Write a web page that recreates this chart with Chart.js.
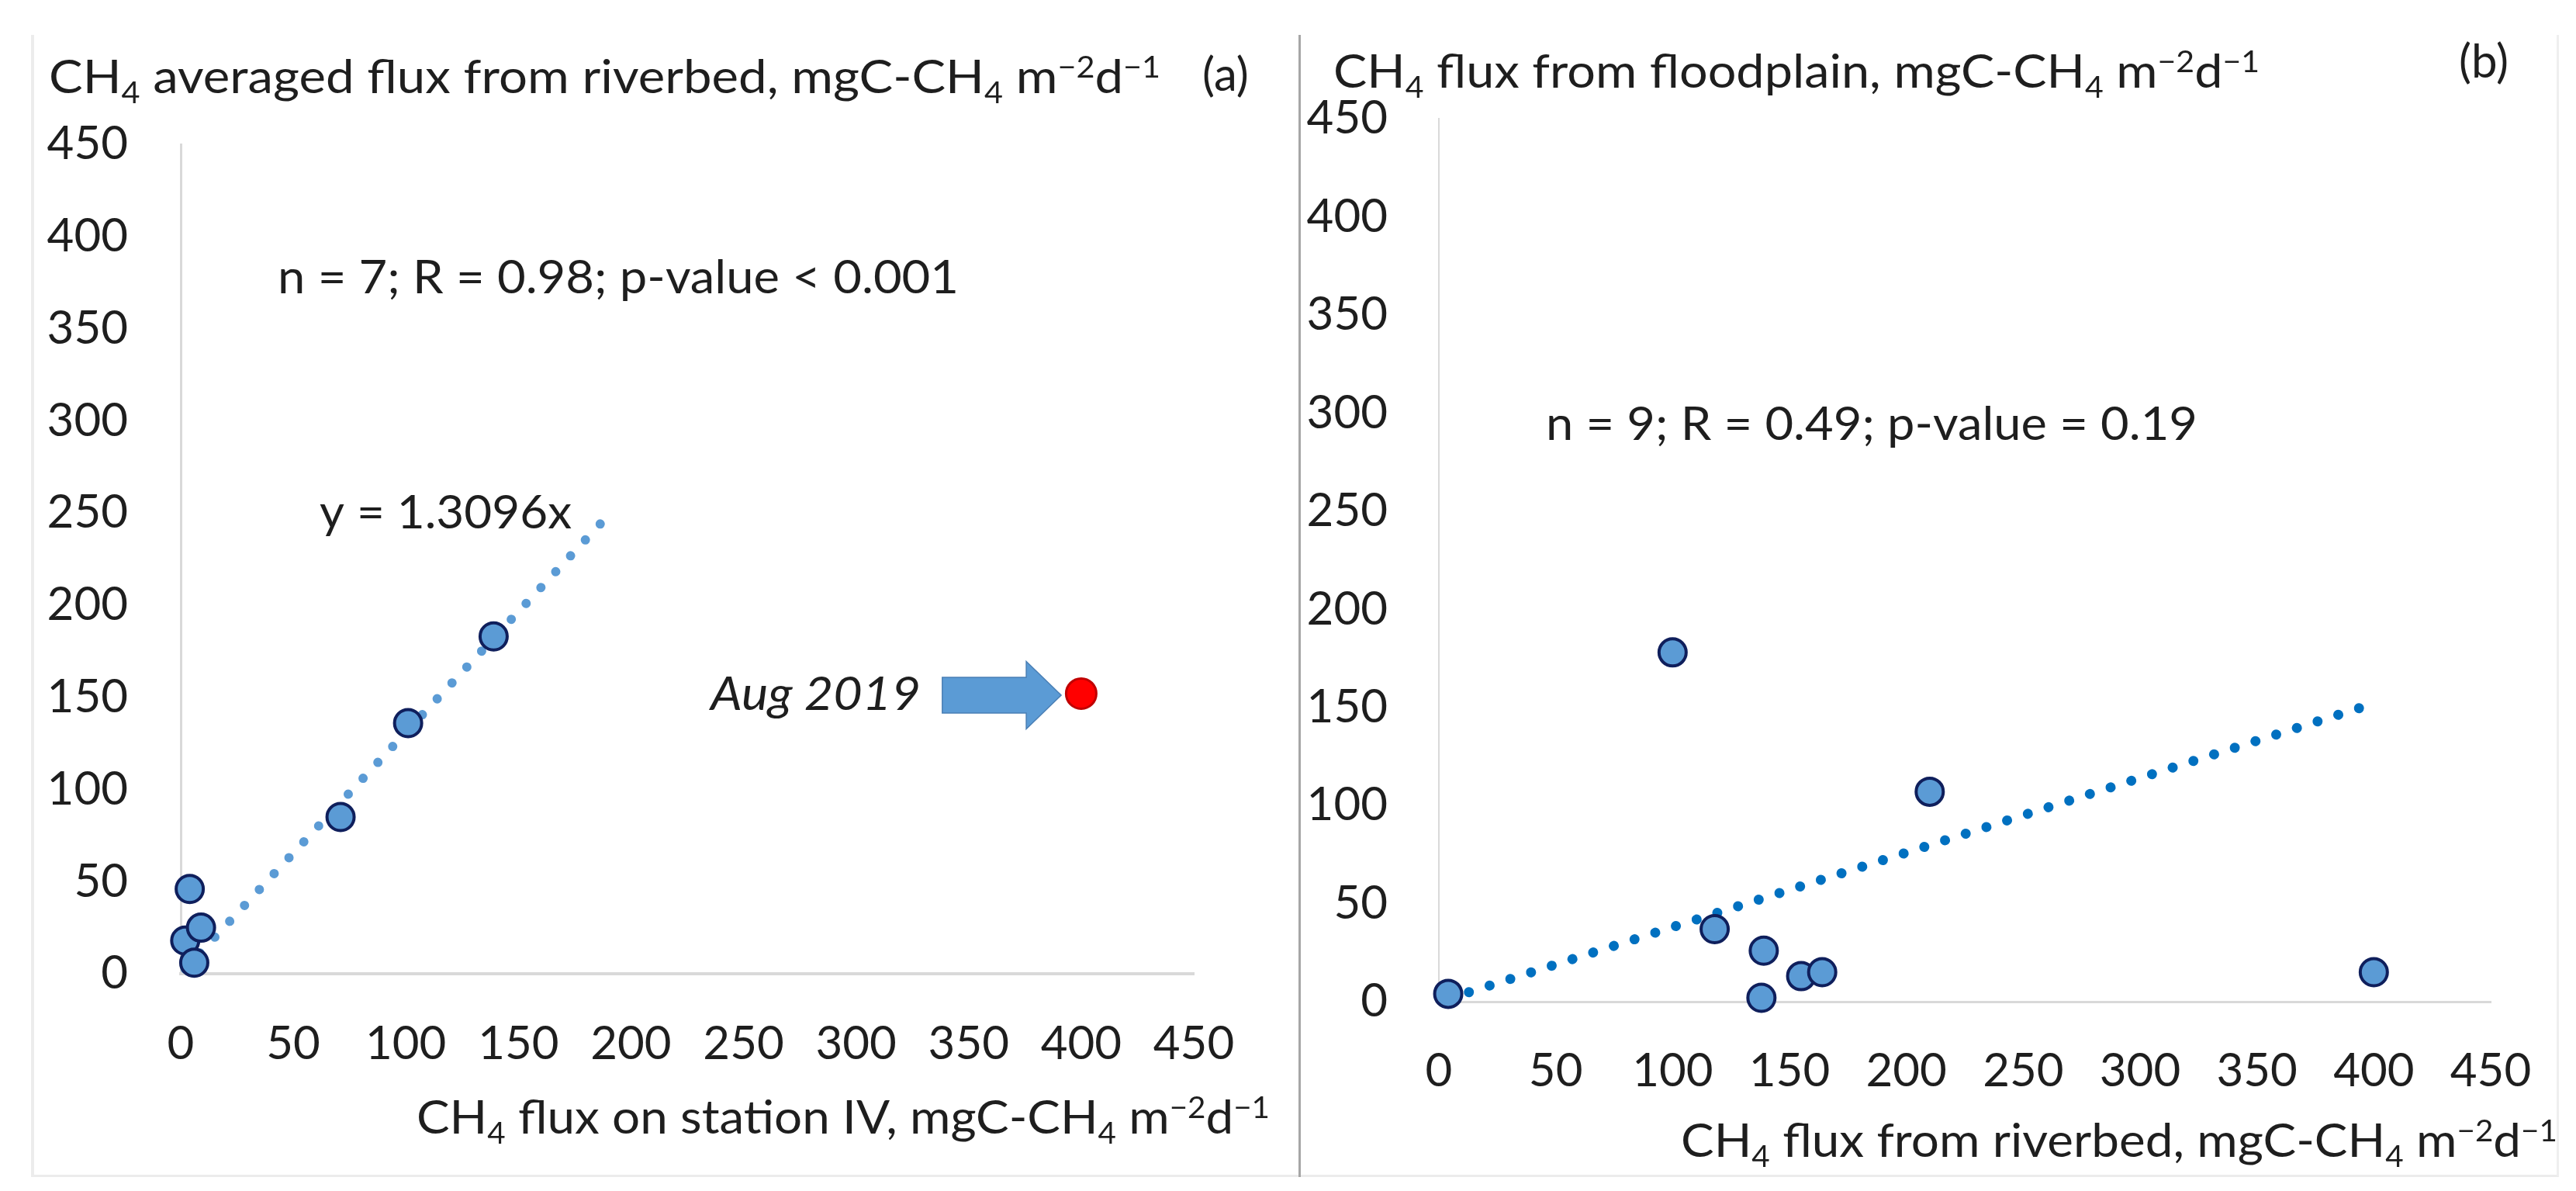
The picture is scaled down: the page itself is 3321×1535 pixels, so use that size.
<!DOCTYPE html>
<html>
<head>
<meta charset="utf-8">
<script src="https://cdn.jsdelivr.net/npm/chart.js@4.4.1/dist/chart.umd.min.js"></script>
<style>
  body { margin: 0; background: #fff; }
  #wrap { position: relative; width: 3321px; height: 1535px; overflow: hidden; }
  canvas { position: absolute; top: 0; }
  #chartA { left: 0; }
  #chartB { left: 1675px; }
  .frame {
    position: absolute; left: 40px; top: 45px; width: 3252px; height: 1469px;
    border-left: 4px solid #ececec; border-right: 3px solid #efefef; border-bottom: 3px solid #ececec;
  }
  .sep { position: absolute; left: 1674px; top: 45px; width: 3px; height: 1472px; background: #a6a6a6; }
</style>
</head>
<body>
<div id="wrap">
  <div class="frame"></div>
  <canvas id="chartA" width="1675" height="1535"></canvas>
  <canvas id="chartB" width="1646" height="1535"></canvas>
  <div class="sep"></div>
</div>
<script>
// (a) station IV vs averaged riverbed flux
const stationIV = [4, 2, 9, 6, 71, 101, 139];
const riverbedAvg = [46, 18, 25, 6, 85, 136, 183];
const aug2019X = [400];
const aug2019Y = [152];
const trendAX = [2, 188];
const trendAY = [2.6, 246.2];

// (b) riverbed vs floodplain flux
const riverbed = [4, 100, 210, 118, 139, 138, 155, 164, 400];
const floodplain = [4, 178, 107, 37, 26, 2, 13, 15, 15];
const trendBX = [4, 400];
const trendBY = [1.5, 152];

const tickValues = [0, 50, 100, 150, 200, 250, 300, 350, 400, 450];

const FONT = "Lato";
const TEXT = "#1e1e1e";

function pts(xs, ys) {
  return xs.map((x, i) => ({ x: x, y: ys[i] }));
}

// rich text (sub/superscripts) and the arrow, drawn on the canvas
const richText = {
  id: "richText",
  afterDatasetsDraw(chart, args, opts) {
    const ctx = chart.ctx;
    const sx = chart.scales.x, sy = chart.scales.y;

    (opts.arrows || []).forEach((a) => {
      const x0 = sx.getPixelForValue(a.from);
      const x1 = sx.getPixelForValue(a.headStart);
      const x2 = sx.getPixelForValue(a.to);
      const yc = sy.getPixelForValue(a.y);
      ctx.save();
      ctx.beginPath();
      ctx.moveTo(x0, yc - a.body);
      ctx.lineTo(x1, yc - a.body);
      ctx.lineTo(x1, yc - a.head);
      ctx.lineTo(x2, yc);
      ctx.lineTo(x1, yc + a.head);
      ctx.lineTo(x1, yc + a.body);
      ctx.lineTo(x0, yc + a.body);
      ctx.closePath();
      ctx.fillStyle = "#5b9bd5";
      ctx.fill();
      ctx.lineWidth = 1.5;
      ctx.strokeStyle = "#4a7fb5";
      ctx.stroke();
      ctx.restore();
    });

    (opts.items || []).forEach((item) => {
      let x = item.x, y = item.y;
      if (item.data) {
        x = sx.getPixelForValue(item.x);
        y = sy.getPixelForValue(item.y);
      }
      const size = item.size || 60;
      const style = item.italic ? "italic " : "";
      const parts = item.parts.map((p) => (typeof p === "string" ? [p, ""] : p));
      const fontFor = (k) => style + (k ? Math.round(size * 0.63) : size) + "px " + FONT;
      let w = 0;
      parts.forEach(([t, k]) => {
        ctx.font = fontFor(k);
        w += ctx.measureText(t).width;
      });
      const stretch = item.width ? item.width / w : 1;
      const left = item.align === "right" ? x - w * stretch : x;
      ctx.save();
      ctx.translate(left, y);
      ctx.scale(stretch, 1);
      ctx.fillStyle = TEXT;
      ctx.textBaseline = "alphabetic";
      ctx.textAlign = "left";
      let cx = 0;
      parts.forEach(([t, k]) => {
        ctx.font = fontFor(k);
        let dy = 0;
        if (k === "sub") dy = size * 0.22;
        if (k === "sup") dy = -size * 0.34;
        ctx.fillText(t, cx, dy);
        cx += ctx.measureText(t).width;
      });
      ctx.restore();
    });
  },
};

const unitParts = [" mgC-CH", ["4", "sub"], " m", ["\u22122", "sup"], "d", ["\u22121", "sup"]];

function scales(o) {
  const tickFont = { family: FONT, size: 60, lineHeight: 1.2 };
  return {
    x: {
      type: "linear",
      min: 0,
      max: 450,
      afterBuildTicks: (s) => { s.ticks = tickValues.map((v) => ({ value: v })); },
      grid: { display: false, drawTicks: false },
      border: { display: true, color: "#d9d9d9", width: o.xBorder },
      ticks: { font: tickFont, color: TEXT, padding: o.xPad, maxRotation: 0 },
      afterFit: (s) => { s.height = o.xHeight; },
    },
    y: {
      type: "linear",
      min: 0,
      max: 450,
      afterBuildTicks: (s) => { s.ticks = tickValues.map((v) => ({ value: v })); },
      grid: { display: false, drawTicks: false },
      border: { display: true, color: "#d9d9d9", width: o.yBorder },
      ticks: { font: tickFont, color: TEXT, padding: o.yPad },
      afterFit: (s) => { s.width = o.yWidth; },
    },
  };
}

const pointStyle = {
  type: "scatter",
  backgroundColor: "#5b9bd5",
  borderColor: "#0f1f5c",
  borderWidth: 4,
  pointRadius: 17.5,
  pointHoverRadius: 17.5,
  clip: false,
  order: 1,
};

new Chart(document.getElementById("chartA").getContext("2d"), {
  type: "scatter",
  data: {
    datasets: [
      Object.assign({}, pointStyle, { label: "riverbed", data: pts(stationIV, riverbedAvg) }),
      {
        type: "scatter",
        label: "Aug 2019",
        data: pts(aug2019X, aug2019Y),
        backgroundColor: "#ff0000",
        borderColor: "#c00000",
        borderWidth: 3,
        pointRadius: 19.5,
        clip: false,
        order: 1,
      },
      {
        type: "line",
        label: "trend",
        data: pts(trendAX, trendAY),
        borderColor: "#5b9bd5",
        borderWidth: 12,
        borderDash: [0.01, 28],
        borderCapStyle: "round",
        pointRadius: 0,
        fill: false,
        clip: false,
        order: 2,
      },
    ],
  },
  options: {
    responsive: false,
    animation: false,
    devicePixelRatio: 1,
    layout: { padding: { left: 0, top: 186, right: 136, bottom: 0 } },
    scales: scales({ xBorder: 4, yBorder: 3, xPad: 55, yPad: 68, xHeight: 280, yWidth: 233 }),
    plugins: {
      legend: { display: false },
      tooltip: { enabled: false },
      richText: {
        arrows: [{ from: 338.3, headStart: 375.6, to: 391.1, y: 151.1, body: 23, head: 43.5 }],
        items: [
          { x: 63, y: 120, width: 1433, parts: ["CH", ["4", "sub"], " averaged flux from riverbed,"].concat(unitParts) },
          { x: 1550, y: 117, parts: ["(a)"] },
          { x: 1637, y: 1461, width: 1100, align: "right", parts: ["CH", ["4", "sub"], " flux on station IV,"].concat(unitParts) },
          { data: true, x: 43.1, y: 369, width: 878, parts: ["n = 7; R = 0.98; p-value < 0.001"] },
          { data: true, x: 61.7, y: 241.6, width: 325, parts: ["y = 1.3096x"] },
          { data: true, x: 328.7, y: 143, width: 271, align: "right", italic: true, parts: ["Aug 2019"] },
        ],
      },
    },
  },
  plugins: [richText],
});

new Chart(document.getElementById("chartB").getContext("2d"), {
  type: "scatter",
  data: {
    datasets: [
      Object.assign({}, pointStyle, { label: "floodplain", data: pts(riverbed, floodplain) }),
      {
        type: "line",
        label: "trend",
        data: pts(trendBX, trendBY),
        borderColor: "#0070c0",
        borderWidth: 13,
        borderDash: [0.01, 28],
        borderCapStyle: "round",
        pointRadius: 0,
        fill: false,
        clip: false,
        order: 2,
      },
    ],
  },
  options: {
    responsive: false,
    animation: false,
    devicePixelRatio: 1,
    layout: { padding: { left: 0, top: 153, right: 110, bottom: 0 } },
    scales: scales({ xBorder: 3, yBorder: 2, xPad: 54, yPad: 66, xHeight: 244, yWidth: 180 }),
    plugins: {
      legend: { display: false },
      tooltip: { enabled: false },
      richText: {
        items: [
          { x: 44, y: 113, width: 1194, parts: ["CH", ["4", "sub"], " flux from floodplain,"].concat(unitParts) },
          { x: 1495, y: 100, parts: ["(b)"] },
          { x: 1622, y: 1491, width: 1130, align: "right", parts: ["CH", ["4", "sub"], " flux from riverbed,"].concat(unitParts) },
          { data: true, x: 45.8, y: 286.2, width: 840, parts: ["n = 9; R = 0.49; p-value = 0.19"] },
        ],
      },
    },
  },
  plugins: [richText],
});
</script>
</body>
</html>
